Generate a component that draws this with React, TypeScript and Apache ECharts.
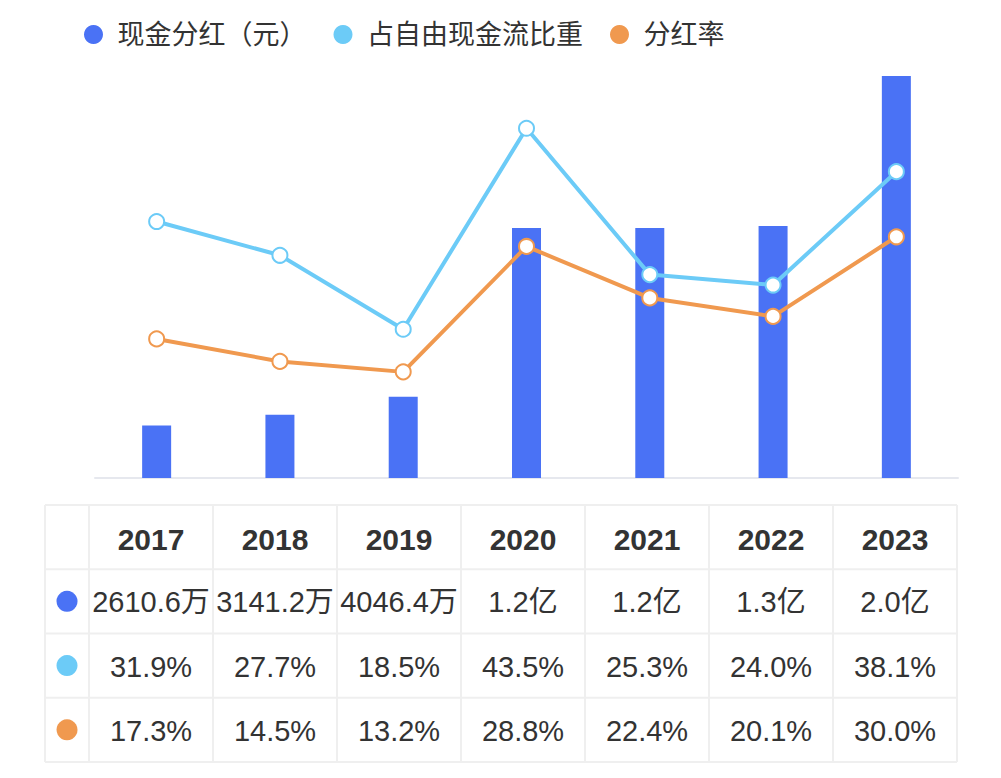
import React, { useEffect, useRef } from "react";
import * as echarts from "echarts";

const years = ["2017", "2018", "2019", "2020", "2021", "2022", "2023"];
// cash dividend, unit: 万元
const dividendWan = [2610.6, 3141.2, 4046.4, 12440, 12440, 12540, 20000];
// share of free cash flow, %
const fcfShare = [31.9, 27.7, 18.5, 43.5, 25.3, 24.0, 38.1];
// payout ratio, %
const payoutRatio = [17.3, 14.5, 13.2, 28.8, 22.4, 20.1, 30.0];
const seriesNames = ["现金分红（元）", "占自由现金流比重", "分红率"];
const colors = ["#4a72f5", "#6ccbf7", "#f0994f"];

const FONT = "'Liberation Sans', 'Noto Sans CJK SC', sans-serif";

const fmtDividend = (v: number) =>
  v < 10000 ? `${v.toFixed(1)}万` : `${(v / 10000).toFixed(1)}亿`;
const fmtPct = (v: number) => `${v.toFixed(1)}%`;

export default function App() {
  const ref = useRef<HTMLDivElement>(null);

  useEffect(() => {
    if (!ref.current) return;
    const chart = echarts.init(ref.current, undefined, { renderer: "svg" });

    // table layout
    const tLeft = 45;
    const firstColW = 44;
    const colW = 124;
    const tTop = 505;
    const rowH = 64.25;
    const nRows = 4;
    const tRight = tLeft + firstColW + colW * years.length;
    const tBottom = tTop + rowH * nRows;
    const borderColor = "#efefef";

    const graphics: any[] = [];
    const xs = [tLeft, tLeft + firstColW];
    for (let i = 1; i <= years.length; i++) xs.push(tLeft + firstColW + colW * i);
    xs.forEach((x) =>
      graphics.push({
        type: "line",
        shape: { x1: x, y1: tTop, x2: x, y2: tBottom },
        style: { stroke: borderColor, lineWidth: 2 },
      })
    );
    for (let r = 0; r <= nRows; r++) {
      const y = tTop + rowH * r;
      graphics.push({
        type: "line",
        shape: { x1: tLeft, y1: y, x2: tRight, y2: y },
        style: { stroke: borderColor, lineWidth: 2 },
      });
    }
    const rows: string[][] = [
      dividendWan.map(fmtDividend),
      fcfShare.map(fmtPct),
      payoutRatio.map(fmtPct),
    ];
    years.forEach((y, i) => {
      const cx = tLeft + firstColW + colW * i + colW / 2;
      graphics.push({
        type: "text",
        x: cx,
        y: tTop + rowH / 2 + 2,
        style: {
          text: y,
          fill: "#333",
          fontSize: 30,
          fontWeight: "bold",
          fontFamily: FONT,
          align: "center",
          verticalAlign: "middle",
        },
      });
      rows.forEach((row, r) => {
        graphics.push({
          type: "text",
          x: cx,
          y: tTop + rowH * (r + 1) + rowH / 2 + 1,
          style: {
            text: row[i],
            fill: "#333",
            fontSize: 29,
            fontFamily: FONT,
            align: "center",
            verticalAlign: "middle",
          },
        });
      });
    });
    colors.forEach((c, r) => {
      graphics.push({
        type: "circle",
        shape: { cx: tLeft + 22, cy: tTop + rowH * (r + 1) + rowH / 2, r: 10.5 },
        style: { fill: c },
      });
    });

    chart.setOption({
      animation: false,
      backgroundColor: "#ffffff",
      legend: {
        left: 79,
        top: 16,
        icon: "circle",
        itemWidth: 38,
        itemHeight: 19,
        itemGap: 27,
        itemStyle: { borderWidth: 0 },
        textStyle: { fontSize: 27, color: "#333", fontFamily: FONT },
        data: seriesNames,
      },
      grid: { left: 95, right: 43, top: 76, bottom: 300, containLabel: false },
      xAxis: {
        type: "category",
        data: years,
        axisLine: { show: true, lineStyle: { color: "#e6e8ee", width: 2 } },
        axisTick: { show: false },
        axisLabel: { show: false },
      },
      yAxis: [
        { type: "value", min: 0, max: 20000, show: false, splitLine: { show: false } },
        { type: "value", min: 0, max: 50, show: false, splitLine: { show: false } },
      ],
      series: [
        {
          name: seriesNames[0],
          type: "bar",
          data: dividendWan,
          barWidth: 29,
          itemStyle: { color: colors[0] },
          yAxisIndex: 0,
        },
        {
          name: seriesNames[1],
          type: "line",
          data: fcfShare,
          yAxisIndex: 1,
          symbol: "emptyCircle",
          symbolSize: 15,
          lineStyle: { color: colors[1], width: 4 },
          itemStyle: { color: colors[1], borderWidth: 2.5 },
        },
        {
          name: seriesNames[2],
          type: "line",
          data: payoutRatio,
          yAxisIndex: 1,
          symbol: "emptyCircle",
          symbolSize: 15,
          lineStyle: { color: colors[2], width: 4 },
          itemStyle: { color: colors[2], borderWidth: 2.5 },
        },
      ],
      graphic: graphics,
    });

    return () => chart.dispose();
  }, []);

  return (
    <div
      ref={ref}
      style={{
        position: "fixed",
        left: 0,
        top: 0,
        width: 1001,
        height: 778,
        background: "#fff",
      }}
    />
  );
}
